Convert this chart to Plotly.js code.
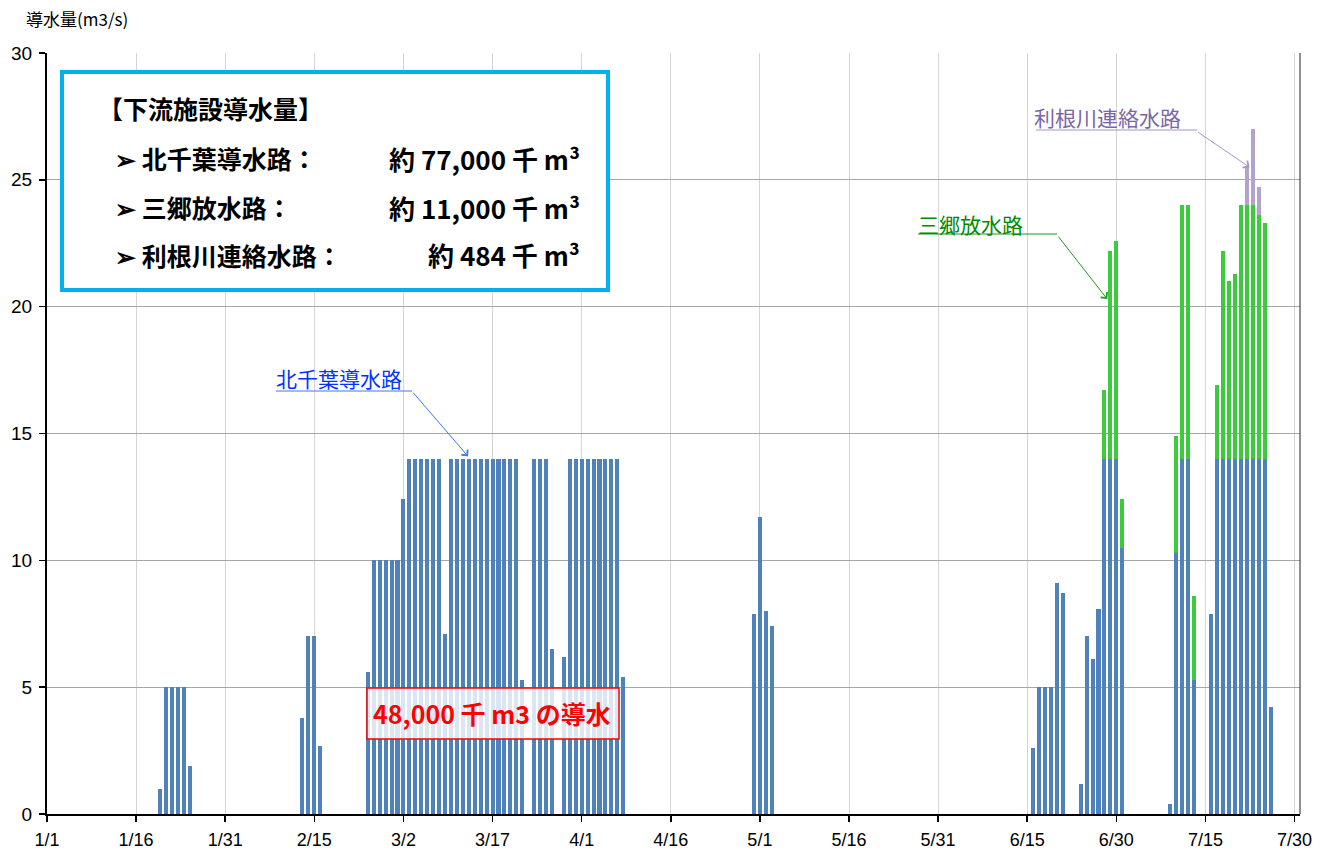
<!DOCTYPE html>
<html>
<head>
<meta charset="utf-8">
<script src="https://cdn.plot.ly/plotly-3.0.1.min.js"></script>
<style>
html,body{margin:0;padding:0;background:#fff;}
#chart{width:1328px;height:852px;}
</style>
</head>
<body>
<div id="chart"></div>
<script>
// ---- data ----
const kitaDates = [
  '2021-01-20','2021-01-21','2021-01-22','2021-01-23','2021-01-24','2021-01-25',
  '2021-02-13','2021-02-14','2021-02-15','2021-02-16',
  '2021-02-24','2021-02-25','2021-02-26','2021-02-27','2021-02-28','2021-03-01',
  '2021-03-02','2021-03-03','2021-03-04','2021-03-05','2021-03-06','2021-03-07','2021-03-08',
  '2021-03-09','2021-03-10','2021-03-11','2021-03-12','2021-03-13','2021-03-14','2021-03-15',
  '2021-03-16','2021-03-17','2021-03-18','2021-03-19','2021-03-20','2021-03-21','2021-03-22',
  '2021-03-24','2021-03-25','2021-03-26','2021-03-27','2021-03-29','2021-03-30','2021-03-31',
  '2021-04-01','2021-04-02','2021-04-03','2021-04-04','2021-04-05','2021-04-06','2021-04-07','2021-04-08',
  '2021-04-30','2021-05-01','2021-05-02','2021-05-03',
  '2021-06-16','2021-06-17','2021-06-18','2021-06-19','2021-06-20','2021-06-21',
  '2021-06-24','2021-06-25','2021-06-26','2021-06-27','2021-06-28','2021-06-29','2021-06-30','2021-07-01',
  '2021-07-09','2021-07-10','2021-07-11','2021-07-12','2021-07-13',
  '2021-07-16','2021-07-17','2021-07-18','2021-07-19','2021-07-20','2021-07-21','2021-07-22',
  '2021-07-23','2021-07-24','2021-07-25','2021-07-26'
];
const kitaValues = [
  1.0, 5.0, 5.0, 5.0, 5.0, 1.9,
  3.8, 7.0, 7.0, 2.7,
  5.6, 10.0, 10.0, 10.0, 10.0, 10.0,
  12.4, 14, 14, 14, 14, 14, 14,
  7.1, 14, 14, 14, 14, 14, 14,
  14, 14, 14, 14, 14, 14, 5.3,
  14, 14, 14, 6.5, 6.2, 14, 14,
  14, 14, 14, 14, 14, 14, 14, 5.4,
  7.9, 11.7, 8.0, 7.4,
  2.6, 5.0, 5.0, 5.0, 9.1, 8.7,
  1.2, 7.0, 6.1, 8.1, 14, 14, 14, 10.5,
  0.4, 10.3, 14, 14, 5.3,
  7.9, 14, 14, 14, 14, 14, 14,
  14, 14, 14, 4.2
];
const misatoDates = [
  '2021-06-28','2021-06-29','2021-06-30','2021-07-01',
  '2021-07-10','2021-07-11','2021-07-12','2021-07-13',
  '2021-07-17','2021-07-18','2021-07-19','2021-07-20','2021-07-21','2021-07-22',
  '2021-07-23','2021-07-24','2021-07-25'
];
const misatoValues = [
  2.7, 8.2, 8.6, 1.9,
  4.6, 10.0, 10.0, 3.3,
  2.9, 8.2, 7.0, 7.3, 10.0, 10.0,
  10.0, 9.6, 9.3
];
const toneDates = ['2021-07-22','2021-07-23','2021-07-24'];
const toneValues = [1.5, 3.0, 1.1];

const seriesNames = ['北千葉導水路', '三郷放水路', '利根川連絡水路'];
const yAxisTitle = '導水量(m3/s)';
const boxTitle = '【下流施設導水量】';
const boxLabels = ['➢ 北千葉導水路：', '➢ 三郷放水路：', '➢ 利根川連絡水路：'];
const boxValues = ['約 77,000 千 m³', '約 11,000 千 m³', '約 484 千 m³'];
const noteText = '48,000 千 m3 の導水';

// ---- layout helpers (pixel -> paper) ----
const L = 47, R = 1300, T = 53, B = 814;
const px = x => (x - L) / (R - L);
const py = y => (B - y) / (B - T);
const DAY = 86400000;

const colors = ['#4F81BD', '#3CCB3C', '#B3A2C9'];
const barWidth = 0.68 * DAY;

const traces = [
  {type:'bar', name:seriesNames[0], x:kitaDates, y:kitaValues, width:barWidth,
   marker:{color:colors[0], line:{width:0}}, hoverinfo:'x+y+name'},
  {type:'bar', name:seriesNames[1], x:misatoDates, y:misatoValues, width:barWidth,
   marker:{color:colors[1], line:{width:0}}, hoverinfo:'x+y+name'},
  {type:'bar', name:seriesNames[2], x:toneDates, y:toneValues, width:barWidth,
   marker:{color:colors[2], line:{width:0}}, hoverinfo:'x+y+name'}
];

const cjk = '"Noto Sans CJK JP", "Noto Sans", sans-serif';
const latin = '"Liberation Sans", Arial, sans-serif';

const annotations = [
  {xref:'paper', yref:'paper', x:px(24), y:py(18), xanchor:'left', yanchor:'middle',
   text:yAxisTitle, showarrow:false, font:{family:cjk, size:17, color:'#000'}},
  {xref:'paper', yref:'paper', x:px(96), y:py(108), xanchor:'left', yanchor:'middle',
   text:'<b>'+boxTitle+'</b>', showarrow:false, font:{family:cjk, size:25, color:'#000'}},
  {xref:'paper', yref:'paper', x:px(492), y:py(713), xanchor:'center', yanchor:'middle',
   text:'<b>'+noteText+'</b>', showarrow:false, font:{family:cjk, size:25, color:'#FF0000'}},
  // pointer labels
  {xref:'paper', yref:'paper', x:px(274), y:py(378), xanchor:'left', yanchor:'middle',
   text:seriesNames[0], showarrow:false, font:{family:cjk, size:21, color:'#0033FF'}},
  {xref:'paper', yref:'paper', x:px(916), y:py(224), xanchor:'left', yanchor:'middle',
   text:seriesNames[1], showarrow:false, font:{family:cjk, size:21, color:'#008A00'}},
  {xref:'paper', yref:'paper', x:px(1032), y:py(117), xanchor:'left', yanchor:'middle',
   text:seriesNames[2], showarrow:false, font:{family:cjk, size:21, color:'#7A66A6'}},
  // pointer arrows
  {xref:'x', yref:'y', x:'2021-03-12 21:00', y:14.1, ax:-56, ay:-65, text:'', showarrow:true,
   arrowhead:4, arrowsize:1.6, arrowwidth:1, arrowcolor:'#3A78F0', startstandoff:0, standoff:0},
  {xref:'x', yref:'y', x:'2021-06-28 11:00', y:20.3, ax:-50, ay:-64, text:'', showarrow:true,
   arrowhead:4, arrowsize:1.6, arrowwidth:1, arrowcolor:'#1E9A1E', startstandoff:0, standoff:0},
  {xref:'x', yref:'y', x:'2021-07-22 10:00', y:25.5, ax:-53, ay:-36, text:'', showarrow:true,
   arrowhead:4, arrowsize:1.6, arrowwidth:1, arrowcolor:'#A595C8', startstandoff:0, standoff:0}
];
const rowY = [158, 207, 255];
for (let i = 0; i < boxLabels.length; i++) {
  annotations.push({xref:'paper', yref:'paper', x:px(113), y:py(rowY[i]), xanchor:'left', yanchor:'middle',
    text:'<b>'+boxLabels[i]+'</b>', showarrow:false, font:{family:cjk, size:25, color:'#000'}});
  annotations.push({xref:'paper', yref:'paper', x:px(582), y:py(rowY[i]), xanchor:'right', yanchor:'middle',
    text:'<b>'+boxValues[i]+'</b>', showarrow:false, font:{family:cjk, size:26, color:'#000'}});
}

const shapes = [
  {type:'rect', xref:'paper', yref:'paper', x0:px(62), x1:px(608), y0:py(290), y1:py(72),
   line:{color:'#00B0F0', width:4}, fillcolor:'#FFFFFF', layer:'above'},
  {type:'rect', xref:'paper', yref:'paper', x0:px(367), x1:px(619), y0:py(739), y1:py(688),
   line:{color:'#FF0000', width:1.5}, fillcolor:'rgba(255,255,255,0.8)', layer:'above'},
  {type:'line', xref:'paper', yref:'paper', x0:px(276), x1:px(412), y0:py(391), y1:py(391),
   line:{color:'#3A78F0', width:1}, layer:'above'},
  {type:'line', xref:'paper', yref:'paper', x0:px(918), x1:px(1057), y0:py(234), y1:py(234),
   line:{color:'#1E9A1E', width:1}, layer:'above'},
  {type:'line', xref:'paper', yref:'paper', x0:px(1036), x1:px(1197), y0:py(130), y1:py(130),
   line:{color:'#A595C8', width:1}, layer:'above'},
  {type:'line', xref:'paper', yref:'paper', x0:1, x1:1, y0:0, y1:1,
   line:{color:'#202020', width:1}, layer:'above'}
];

const layout = {
  width:1328, height:852,
  margin:{l:L, r:1328-R, t:T, b:852-B},
  paper_bgcolor:'#FFFFFF', plot_bgcolor:'#FFFFFF',
  barmode:'stack', bargap:0,
  showlegend:false,
  font:{family:latin, size:18, color:'#000'},
  xaxis:{
    type:'date',
    range:['2021-01-01', '2021-07-30 22:00'],
    tick0:'2021-01-01', dtick:15*DAY, tickformat:'%-m/%-d',
    showgrid:true, gridcolor:'#D4D4D4', gridwidth:1,
    showline:true, linecolor:'#000', linewidth:2,
    ticks:'outside', ticklen:6, tickwidth:1.5, tickcolor:'#000',
    tickfont:{family:latin, size:18, color:'#000'},
    ticklabelstandoff:2,
    zeroline:false, fixedrange:true
  },
  yaxis:{
    range:[0, 30], dtick:5, tick0:0,
    showgrid:true, gridcolor:'#A6A6A6', gridwidth:1,
    showline:true, linecolor:'#000', linewidth:2,
    ticks:'outside', ticklen:6, tickwidth:1.5, tickcolor:'#000',
    tickfont:{family:latin, size:19, color:'#000'},
    ticklabelstandoff:3,
    zeroline:false, fixedrange:true
  },
  annotations:annotations,
  shapes:shapes
};

Plotly.newPlot('chart', traces, layout, {displayModeBar:false, staticPlot:true});
</script>
</body>
</html>
